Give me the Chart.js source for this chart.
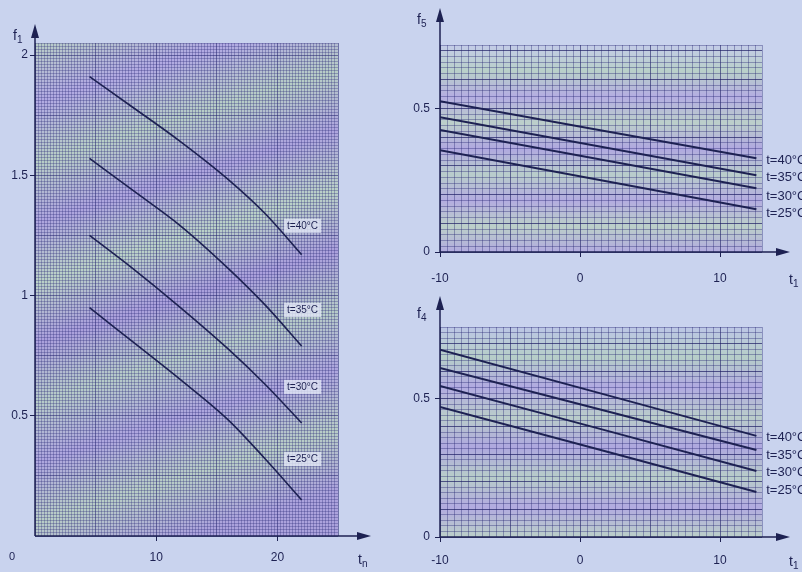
<!DOCTYPE html>
<html>
<head>
<meta charset="utf-8">
<script src="https://cdn.jsdelivr.net/npm/chart.js@4.4.0/dist/chart.umd.min.js"></script>
<style>
    html, body { margin: 0; padding: 0; }
    body {
        width: 802px; height: 572px; position: relative; overflow: hidden;
        background: #c9d3ee;
        font-family: "Liberation Sans", Arial, sans-serif;
    }
    canvas { position: absolute; }
    #leftChart { left: 0; top: 0; }
    #topChart { left: 395px; top: 0; }
    #bottomChart { left: 395px; top: 290px; }
</style>
</head>
<body>
<canvas id="leftChart" width="380" height="572"></canvas>
<canvas id="topChart" width="407" height="290"></canvas>
<canvas id="bottomChart" width="407" height="282"></canvas>
<script>
// values

const tn = [4.5, 8, 12, 16, 19, 22];
const f1T40 = [1.91, 1.785, 1.64, 1.48, 1.34, 1.17];
const f1T35 = [1.57, 1.44, 1.29, 1.11, 0.96, 0.79];
const f1T30 = [1.25, 1.115, 0.95, 0.775, 0.63, 0.47];
const f1T25 = [0.95, 0.81, 0.65, 0.48, 0.32, 0.15];

const t1 = [-10, 12.6];
const f5T40 = [0.524, 0.326];
const f5T35 = [0.469, 0.267];
const f5T30 = [0.424, 0.222];
const f5T25 = [0.354, 0.149];

const f4T40 = [0.678, 0.366];
const f4T35 = [0.612, 0.315];
const f4T30 = [0.547, 0.239];
const f4T25 = [0.471, 0.163];

const curveNames = ['t=40°C', 't=35°C', 't=30°C', 't=25°C'];
const f1Ticks = [0.5, 1, 1.5, 2];
const tnTicks = [10, 20];
const t1Ticks = [-10, 0, 10];
const fRightTicks = [0, 0.5];

const INK = '#1d2152';
const FONT = '"Liberation Sans", Arial, sans-serif';

function pts(xs, ys) {
    return xs.map((x, i) => ({ x, y: ys[i] }));
}

function isIn(list, v) {
    return list.some(t => Math.abs(t - v) < 1e-6);
}

function fmt(v) {
    return String(Number(v.toFixed(4)));
}

// paper background, axis arrows, titles and curve labels
const paperPlugin = {
    id: 'paper',
    beforeDraw(chart, args, opts) {
        const { ctx, chartArea: a } = chart;
        const g = opts.vertical
            ? ctx.createLinearGradient(0, a.top, 0, a.bottom)
            : ctx.createLinearGradient(a.left, a.top, a.left + (a.right - a.left) * 0.5, a.bottom);
        opts.bands.forEach((c, i) => g.addColorStop(i / (opts.bands.length - 1), c));
        ctx.save();
        ctx.fillStyle = g;
        ctx.fillRect(a.left, a.top, a.right - a.left, a.bottom - a.top);
        ctx.restore();
    },
    afterDraw(chart, args, opts) {
        const { ctx, chartArea: a, scales } = chart;
        ctx.save();
        ctx.strokeStyle = INK;
        ctx.fillStyle = INK;
        ctx.lineWidth = 1.5;

        // x axis with arrow
        const xe = a.right + opts.arrowX;
        ctx.beginPath();
        ctx.moveTo(a.left, a.bottom);
        ctx.lineTo(xe, a.bottom);
        ctx.stroke();
        ctx.beginPath();
        ctx.moveTo(xe + 6, a.bottom);
        ctx.lineTo(xe - 8, a.bottom - 4);
        ctx.lineTo(xe - 8, a.bottom + 4);
        ctx.closePath();
        ctx.fill();

        // y axis with arrow
        const ye = a.top - opts.arrowY;
        ctx.beginPath();
        ctx.moveTo(a.left, a.bottom);
        ctx.lineTo(a.left, ye);
        ctx.stroke();
        ctx.beginPath();
        ctx.moveTo(a.left, ye - 6);
        ctx.lineTo(a.left - 4, ye + 8);
        ctx.lineTo(a.left + 4, ye + 8);
        ctx.closePath();
        ctx.fill();

        // axis titles with subscript
        opts.titles.forEach(t => {
            ctx.font = '14px ' + FONT;
            ctx.textAlign = 'left';
            ctx.textBaseline = 'alphabetic';
            ctx.fillText(t.main, t.x, t.y);
            const w = ctx.measureText(t.main).width;
            ctx.font = '10px ' + FONT;
            ctx.fillText(t.sub, t.x + w, t.y + 3);
        });

        // loose texts (origin zero)
        (opts.texts || []).forEach(t => {
            ctx.font = '11px ' + FONT;
            ctx.textAlign = 'center';
            ctx.textBaseline = 'middle';
            ctx.fillText(t.text, t.x, t.y);
        });

        // curve labels, anchored in data units
        ctx.font = opts.labelFont;
        ctx.textAlign = 'left';
        ctx.textBaseline = 'middle';
        opts.labels.forEach((pos, i) => {
            const px = scales.x.getPixelForValue(pos[0]);
            const py = scales.y.getPixelForValue(pos[1]);
            const text = curveNames[i];
            if (opts.labelBox) {
                const w = ctx.measureText(text).width;
                ctx.fillStyle = 'rgba(226, 231, 246, 0.8)';
                ctx.fillRect(px - 3, py - 7, w + 6, 14);
            }
            ctx.fillStyle = INK;
            ctx.fillText(text, px, py);
        });
        ctx.restore();
    }
};

function axis(min, max, step, labelled, majors, opts) {
    return {
        type: 'linear',
        min,
        max,
        afterFit: opts.fit,
        border: { display: false },
        grid: {
            color: c => isIn(majors, c.tick.value) ? opts.major : opts.minor,
            lineWidth: 1,
            tickLength: 5,
            tickColor: c => isIn(labelled, c.tick.value) ? INK : 'transparent'
        },
        ticks: {
            stepSize: step,
            autoSkip: false,
            maxRotation: 0,
            padding: opts.padding,
            color: INK,
            font: { family: FONT, size: 12 },
            callback: v => isIn(labelled, v) ? fmt(v) : ''
        }
    };
}

function lineSet(xs, ys, width) {
    return {
        data: pts(xs, ys),
        borderColor: INK,
        borderWidth: width,
        pointRadius: 0,
        cubicInterpolationMode: 'monotone',
        fill: false
    };
}

function multiples(min, max, step) {
    const out = [];
    for (let v = min; v <= max + 1e-9; v += step) out.push(Number(v.toFixed(4)));
    return out;
}

function initLeftChart() {
    const ctx = document.getElementById('leftChart');
    new Chart(ctx, {
        type: 'line',
        data: {
            datasets: [
                lineSet(tn, f1T40, 1.6),
                lineSet(tn, f1T35, 1.6),
                lineSet(tn, f1T30, 1.6),
                lineSet(tn, f1T25, 1.6)
            ]
        },
        options: {
            responsive: false,
            animation: false,
            layout: { padding: { top: 43, right: 42, left: 0, bottom: 0 } },
            plugins: {
                legend: { display: false },
                tooltip: { enabled: false },
                paper: {
                    bands: ['#b9cec6', '#b1a9e2', '#b7cdc6', '#ada4de', '#bad1c7',
                            '#aa9fdc', '#b6cbc8', '#ada5de', '#b8cdc6', '#aba2dc'],
                    vertical: false,
                    arrowX: 27,
                    arrowY: 13,
                    titles: [{ main: 'f', sub: '1', x: 13, y: 40 },
                             { main: 't', sub: 'n', x: 358, y: 564 }],
                    texts: [{ text: '0', x: 12, y: 557 }],
                    labels: [[20.8, 1.29], [20.8, 0.94], [20.8, 0.62], [20.8, 0.32]],
                    labelFont: '10px ' + FONT,
                    labelBox: true
                }
            },
            scales: {
                x: axis(0, 25, 0.25, tnTicks, multiples(0, 25, 5), {
                    fit: s => { s.height = 36; }, padding: 9,
                    major: 'rgba(35, 35, 110, 0.55)', minor: 'rgba(45, 45, 120, 0.32)'
                }),
                y: axis(0, 2.05, 0.0125, f1Ticks, multiples(0, 2.05, 0.25), {
                    fit: s => { s.width = 35; }, padding: 2,
                    major: 'rgba(35, 35, 110, 0.55)', minor: 'rgba(45, 45, 120, 0.32)'
                })
            }
        },
        plugins: [paperPlugin]
    });
}

function initRightChart(id, ys, yMax, top, xFit, xPad, arrowY, title, labels, bands) {
    const ctx = document.getElementById(id);
    new Chart(ctx, {
        type: 'line',
        data: {
            datasets: ys.map(y => lineSet(t1, y, 2))
        },
        options: {
            responsive: false,
            animation: false,
            layout: { padding: { top, right: 40, left: 0, bottom: 0 } },
            plugins: {
                legend: { display: false },
                tooltip: { enabled: false },
                paper: {
                    bands,
                    vertical: true,
                    arrowX: 22,
                    arrowY,
                    titles: [title, { main: 't', sub: '1', x: 394, y: ctx.height - 6 }],
                    labels,
                    labelFont: '13px ' + FONT,
                    labelBox: false
                }
            },
            scales: {
                x: axis(-10, 13, 0.5, t1Ticks, multiples(-10, 13, 5), {
                    fit: s => { s.height = xFit; }, padding: xPad,
                    major: 'rgba(30, 30, 100, 0.6)', minor: 'rgba(40, 40, 115, 0.38)'
                }),
                y: axis(0, yMax, 0.02, fRightTicks, multiples(0, yMax, 0.1), {
                    fit: s => { s.width = 45; }, padding: 5,
                    major: 'rgba(30, 30, 100, 0.7)', minor: 'rgba(40, 40, 115, 0.38)'
                })
            }
        },
        plugins: [paperPlugin]
    });
}

initLeftChart();

initRightChart('topChart', [f5T40, f5T35, f5T30, f5T25], 0.72, 45, 38, 14, 31,
    { main: 'f', sub: '5', x: 22, y: 24 },
    [[13.3, 0.319], [13.3, 0.26], [13.3, 0.194], [13.3, 0.135]],
    ['#c3cbe8', '#b9d0c9', '#b4ade2', '#bccfca', '#b0a8e0', '#b9cdcb', '#b3abe0', '#bcd0c9', '#b1aadf']);

initRightChart('bottomChart', [f4T40, f4T35, f4T30, f4T25], 0.76, 37, 35, 11, 25,
    { main: 'f', sub: '4', x: 22, y: 28 },
    [[13.3, 0.362], [13.3, 0.297], [13.3, 0.232], [13.3, 0.167]],
    ['#bcc6e6', '#b6cec8', '#b1aae1', '#bacdca', '#aea7df', '#b8cdc9', '#b2aae0', '#bbcfc9']);
</script>
</body>
</html>
